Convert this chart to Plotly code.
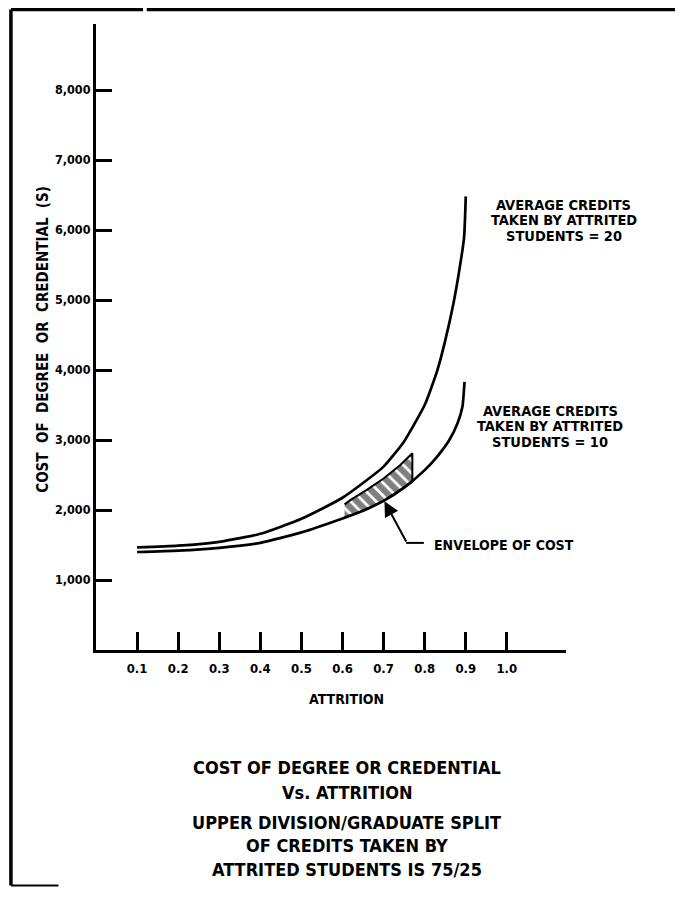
import plotly.graph_objects as go

# ---- data ----
# Average credits taken by attrited students = 20
attr_20 = [0.1, 0.2, 0.3, 0.4, 0.5, 0.6, 0.7, 0.75, 0.8, 0.83, 0.85, 0.87, 0.885, 0.896, 0.9]
cost_20 = [1465, 1490, 1545, 1660, 1875, 2175, 2620, 2980, 3500, 3980, 4420, 4950, 5450, 5900, 6480]

# Average credits taken by attrited students = 10
attr_10 = [0.1, 0.2, 0.3, 0.4, 0.5, 0.6, 0.65, 0.7, 0.75, 0.8, 0.83, 0.86, 0.88, 0.892, 0.897]
cost_10 = [1400, 1420, 1460, 1530, 1680, 1880, 1990, 2130, 2320, 2570, 2760, 3000, 3240, 3480, 3830]

# Envelope of cost (hatched region): bottom edge on the 10-credit curve, top edge
env_bottom_x = [0.605, 0.65, 0.7, 0.74, 0.77]
env_bottom_y = [1890, 1990, 2130, 2280, 2400]
env_top_x = [0.77, 0.74, 0.70, 0.66, 0.62, 0.605]
env_top_y = [2810, 2640, 2450, 2290, 2145, 2080]

x_ticks = [0.1, 0.2, 0.3, 0.4, 0.5, 0.6, 0.7, 0.8, 0.9, 1.0]
x_tick_labels = ["0.1", "0.2", "0.3", "0.4", "0.5", "0.6", "0.7", "0.8", "0.9", "1.0"]
y_ticks = [1000, 2000, 3000, 4000, 5000, 6000, 7000, 8000]
y_tick_labels = ["1,000", "2,000", "3,000", "4,000", "5,000", "6,000", "7,000", "8,000"]

label_20 = ["AVERAGE CREDITS", "TAKEN BY ATTRITED", "STUDENTS = 20"]
label_10 = ["AVERAGE CREDITS", "TAKEN BY ATTRITED", "STUDENTS = 10"]
envelope_label = "ENVELOPE OF COST"
x_title = "ATTRITION"
y_title = "COST  OF  DEGREE  OR  CREDENTIAL  (S)"
caption = ["COST OF DEGREE OR CREDENTIAL", "Vs. ATTRITION",
           "UPPER DIVISION/GRADUATE SPLIT", "OF CREDITS TAKEN BY",
           "ATTRITED STUDENTS IS 75/25"]

FONT = "DejaVu Sans Condensed, DejaVu Sans, sans-serif"
TICKFONT = FONT

fig = go.Figure()

fig.add_trace(go.Scatter(
    x=env_bottom_x + env_top_x, y=env_bottom_y + env_top_y,
    mode="lines", fill="toself",
    fillpattern=dict(shape="\\", fgcolor="black", bgcolor="white", size=9, solidity=0.7),
    fillcolor="white",
    line=dict(color="black", width=2), hoverinfo="skip"))

fig.add_trace(go.Scatter(x=attr_20, y=cost_20, mode="lines",
                         line=dict(color="black", width=2.7, shape="spline", smoothing=0.5)))
fig.add_trace(go.Scatter(x=attr_10, y=cost_10, mode="lines",
                         line=dict(color="black", width=2.7, shape="spline", smoothing=0.5)))

annotations = []
bold = dict(color="black", weight="bold")

# curve labels
for i, t in enumerate(label_20):
    annotations.append(dict(x=1.138, y=6360 - i * 222, xref="x", yref="y", text=t,
                            showarrow=False, xanchor="center", yanchor="middle",
                            font=dict(size=14.5, family=FONT, **bold)))
for i, t in enumerate(label_10):
    annotations.append(dict(x=1.106, y=3420 - i * 222, xref="x", yref="y", text=t,
                            showarrow=False, xanchor="center", yanchor="middle",
                            font=dict(size=14.5, family=FONT, **bold)))

# envelope label + arrow
annotations.append(dict(x=0.817, y=1500, xref="x", yref="y", text=envelope_label,
                        showarrow=False, xanchor="left", yanchor="middle",
                        font=dict(size=14, family=FONT, **bold)))
annotations.append(dict(x=0.702, y=2125, xref="x", yref="y", ax=0.757, ay=1530,
                        axref="x", ayref="y", text="", showarrow=True,
                        arrowhead=2, arrowsize=1.5, arrowwidth=2, arrowcolor="black"))

# axis titles
annotations.append(dict(x=0.534, y=-0.078, xref="paper", yref="paper", text=x_title,
                        showarrow=False, xanchor="center", yanchor="middle",
                        font=dict(size=14, family=FONT, **bold)))
annotations.append(dict(x=-0.113, y=0.497, xref="paper", yref="paper", text=y_title,
                        showarrow=False, xanchor="center", yanchor="middle", textangle=-90,
                        font=dict(size=15, family=FONT, **bold)))

# caption
cap_y = [768, 792, 822, 845, 870]
for t, py in zip(caption, cap_y):
    annotations.append(dict(x=0.534, y=(650 - py) / 626, xref="paper", yref="paper", text=t,
                            showarrow=False, xanchor="center", yanchor="middle",
                            font=dict(size=18, family=FONT, **bold)))

top_y = (650 - 9.5) / 626
shapes = [
    # leader line horizontal part
    dict(type="line", xref="x", yref="y", x0=0.755, y0=1530, x1=0.798, y1=1530,
         line=dict(color="black", width=2)),
    # page border: left and top, short bottom stub
    dict(type="line", xref="paper", yref="paper", x0=-0.181, y0=top_y, x1=-0.181, y1=-0.376,
         line=dict(color="black", width=3.5)),
    dict(type="line", xref="paper", yref="paper", x0=-0.181, y0=top_y, x1=0.1, y1=top_y,
         line=dict(color="black", width=3.5)),
    dict(type="line", xref="paper", yref="paper", x0=0.108, y0=top_y, x1=1.25, y1=top_y,
         line=dict(color="black", width=3.5)),
    dict(type="line", xref="paper", yref="paper", x0=-0.181, y0=-0.376, x1=-0.08, y1=-0.376,
         line=dict(color="black", width=2)),
]

# page body has an 8px default margin; the figure is sized to fit inside it
fig.update_layout(
    width=667, height=883,
    margin=dict(l=88, r=109, t=16, b=241, pad=0),
    paper_bgcolor="white", plot_bgcolor="white",
    showlegend=False,
    annotations=annotations, shapes=shapes,
    xaxis=dict(range=[0, 1.144], showline=True, linecolor="black", linewidth=3,
               ticks="inside", ticklen=18, tickwidth=3, tickcolor="black",
               tickvals=x_ticks, ticktext=x_tick_labels, ticklabelstandoff=4,
               showgrid=False, zeroline=False, fixedrange=True,
               tickfont=dict(size=13, family=TICKFONT, **bold)),
    yaxis=dict(range=[0, 8943], showline=True, linecolor="black", linewidth=3,
               ticks="inside", ticklen=16, tickwidth=3, tickcolor="black",
               tickvals=y_ticks, ticktext=y_tick_labels,
               showgrid=False, zeroline=False, fixedrange=True,
               tickfont=dict(size=12.5, family=TICKFONT, **bold)),
)

fig.write_html("out.html")
